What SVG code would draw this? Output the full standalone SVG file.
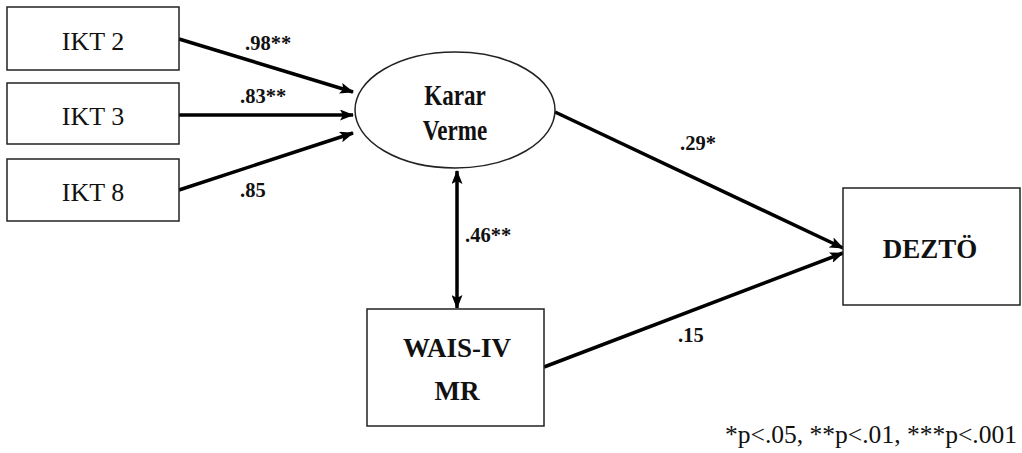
<svg xmlns="http://www.w3.org/2000/svg" width="1022" height="453" viewBox="0 0 1022 453">
<defs>
<style>
.box{fill:#fff;stroke:#222;stroke-width:1.5}
.lbl{font-family:"Liberation Serif","Times New Roman",serif;fill:#111}
.n{font-size:26px;text-anchor:middle}
.b{font-weight:bold;font-size:27px}
.c{font-size:20.5px;font-weight:bold}
.k{font-weight:bold;font-size:22px;text-anchor:middle}
.line{stroke:#000;stroke-width:3.5;fill:none}
</style>
<marker id="ah" viewBox="0 0 14 11" refX="13" refY="5.5" markerWidth="14" markerHeight="11" markerUnits="userSpaceOnUse" orient="auto-start-reverse">
<path d="M0,0 L14,5.5 L0,11 L3,5.5 Z" fill="#000"/>
</marker>
</defs>
<rect width="1022" height="453" fill="#fff"/>
<g id="connectors">
<line class="line" x1="179" y1="39" x2="353" y2="92" marker-end="url(#ah)"/>
<line class="line" x1="179" y1="115" x2="353" y2="115" marker-end="url(#ah)"/>
<line class="line" x1="179" y1="190" x2="353" y2="133" marker-end="url(#ah)"/>
<line class="line" x1="457" y1="171" x2="457" y2="308" marker-start="url(#ah)" marker-end="url(#ah)"/>
<line class="line" x1="555" y1="112" x2="843" y2="248" marker-end="url(#ah)"/>
<line class="line" x1="544" y1="367" x2="843" y2="253" marker-end="url(#ah)"/>
<text class="lbl c" x="245" y="50">.98**</text>
<text class="lbl c" x="240" y="103">.83**</text>
<text class="lbl c" x="240" y="197">.85</text>
<text class="lbl c" x="465" y="242">.46**</text>
<text class="lbl c" x="680" y="150">.29*</text>
<text class="lbl c" x="678" y="342">.15</text>
</g>
<g id="ikt2"><rect class="box" x="7" y="7" width="172" height="63"/><text class="lbl n" x="93" y="50">IKT 2</text></g>
<g id="ikt3"><rect class="box" x="7" y="83" width="172" height="61"/><text class="lbl n" x="93" y="125">IKT 3</text></g>
<g id="ikt8"><rect class="box" x="7" y="159" width="172" height="62"/><text class="lbl n" x="93" y="201">IKT 8</text></g>
<g id="karar"><ellipse class="box" cx="455" cy="110" rx="100" ry="58"/><text class="lbl k" transform="translate(455,105) scale(1.05,1.3)">Karar</text><text class="lbl k" transform="translate(455,140) scale(1.05,1.3)">Verme</text></g>
<g id="wais"><rect class="box" x="367" y="309" width="177" height="117"/><text class="lbl n b" x="457" y="357">WAIS-IV</text><text class="lbl n b" x="457" y="400">MR</text></g>
<g id="dezto"><rect class="box" x="843" y="188" width="177" height="117"/><text class="lbl n b" x="930" y="258">DEZTÖ</text></g>
<text class="lbl" x="725" y="443" font-size="25" textLength="292" lengthAdjust="spacingAndGlyphs">*p&lt;.05, **p&lt;.01, ***p&lt;.001</text>
</svg>
